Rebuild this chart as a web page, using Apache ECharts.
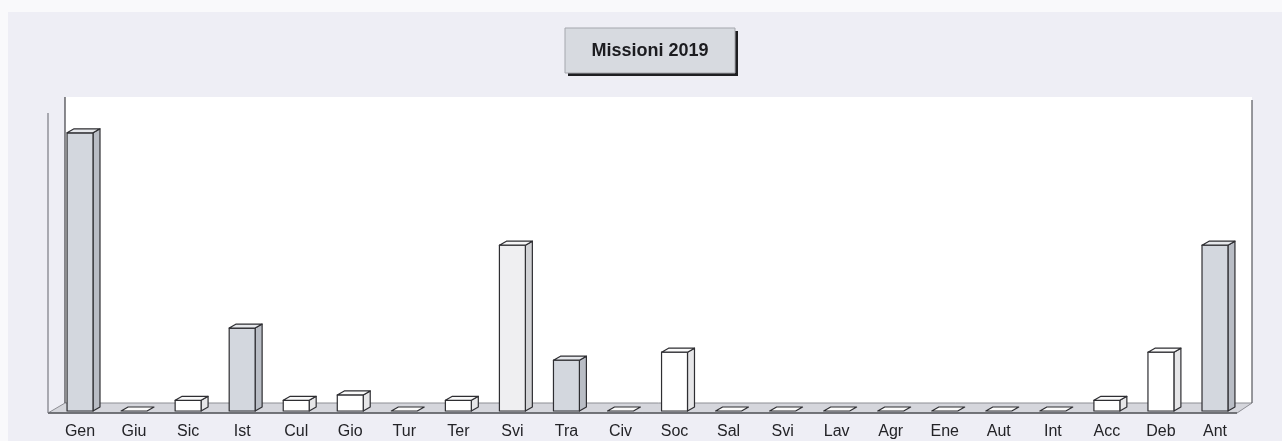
<!DOCTYPE html>
<html>
<head>
<meta charset="utf-8">
<script src="https://cdn.jsdelivr.net/npm/echarts@6/dist/echarts.min.js"></script>
<style>
  html, body { margin: 0; padding: 0; background: #f9f9fb; }
  #chart { width: 1282px; height: 441px; }
</style>
</head>
<body>
<div id="chart"></div>
<script>
// Missions per area, 2019
const categories = ['Gen', 'Giu', 'Sic', 'Ist', 'Cul', 'Gio', 'Tur', 'Ter', 'Svi', 'Tra', 'Civ',
                    'Soc', 'Sal', 'Svi', 'Lav', 'Agr', 'Ene', 'Aut', 'Int', 'Acc', 'Deb', 'Ant'];
const missions = [52, 0, 2, 15.5, 2, 3, 0, 2, 31, 9.5, 0, 11, 0, 0, 0, 0, 0, 0, 0, 2, 11, 31];
const chartTitle = 'Missioni 2019';

// Face colours per bar: grey boxes and white boxes
const tones = {
  grey:  { front: '#d3d7de', top: '#e6e8ec', side: '#b9bdc5' },
  pale:  { front: '#efeff1', top: '#f6f6f7', side: '#d2d3d6' },
  white: { front: '#ffffff', top: '#fafafa', side: '#e6e6e8' }
};
const toneOf = i => ({ 0: 'grey', 3: 'grey', 9: 'grey', 21: 'grey', 8: 'pale' }[i] || 'white');

const GRID = { left: 53, right: 40, top: 90, bottom: 30 };
const DEPTH_X = 7, DEPTH_Y = 4;
const W = 1282, H = 441;

const chart = echarts.init(document.getElementById('chart'), null, { renderer: 'canvas' });

function box(params, api) {
  const idx = api.value(0);
  const top = api.coord([idx, api.value(1)]);
  const bot = api.coord([idx, 0]);
  const band = api.size([1, 0])[0];
  const w = band * 0.48;
  const x0 = top[0] - w / 2, x1 = top[0] + w / 2;
  const yt = top[1], yb = bot[1];
  const t = tones[toneOf(idx)];
  const line = { stroke: '#2e2e32', lineWidth: 1.2, lineJoin: 'round' };
  const children = [];
  if (yb - yt > 0.5) {
    children.push({ type: 'polygon', shape: { points: [[x1, yt], [x1 + DEPTH_X, yt - DEPTH_Y], [x1 + DEPTH_X, yb - DEPTH_Y], [x1, yb]] },
                    style: Object.assign({ fill: t.side }, line) });
    children.push({ type: 'rect', shape: { x: x0, y: yt, width: w, height: yb - yt },
                    style: Object.assign({ fill: t.front }, line) });
  }
  children.push({ type: 'polygon', shape: { points: [[x0, yt], [x0 + DEPTH_X, yt - DEPTH_Y], [x1 + DEPTH_X, yt - DEPTH_Y], [x1, yt]] },
                  style: Object.assign({ fill: t.top }, line) });
  return { type: 'group', children };
}

// Back wall, side wall and floor of the box the bars stand in
const wallL = 65, wallR = 1252, wallTop = 97, floorBack = 403, floorFront = 413, frontL = 48, frontR = 1237;

const option = {
  animation: false,
  backgroundColor: 'transparent',
  graphic: [
    { type: 'rect', z: -10, shape: { x: 8, y: 12, width: W - 8, height: H - 12 }, style: { fill: '#eeeef5' } },
    { type: 'rect', z: -9, shape: { x: wallL, y: wallTop, width: wallR - wallL, height: floorBack - wallTop },
      style: { fill: '#ffffff' } },
    { type: 'polygon', z: -8, shape: { points: [[frontL, floorFront], [frontR, floorFront], [wallR, floorBack], [wallL, floorBack]] },
      style: { fill: '#d5d6dc', stroke: '#8d8e94', lineWidth: 1 } },
    { type: 'line', z: -7, shape: { x1: frontL, y1: floorFront, x2: frontR, y2: floorFront }, style: { stroke: '#5a5b60', lineWidth: 1.5 } },
    { type: 'line', z: -7, shape: { x1: wallL, y1: wallTop, x2: wallL, y2: floorBack }, style: { stroke: '#3e3f44', lineWidth: 1.2 } },
    { type: 'line', z: -7, shape: { x1: frontL, y1: 113, x2: frontL, y2: floorFront }, style: { stroke: '#7a7b82', lineWidth: 1.2 } },
    { type: 'line', z: -7, shape: { x1: wallR, y1: wallTop + 3, x2: wallR, y2: floorBack }, style: { stroke: '#55565c', lineWidth: 1.2 } },
    // Title box with drop shadow
    { type: 'rect', z: 5, shape: { x: 568, y: 31, width: 170, height: 45 }, style: { fill: '#1e1e22' } },
    { type: 'rect', z: 6, shape: { x: 565, y: 28, width: 170, height: 45 },
      style: { fill: '#d7dae0', stroke: '#a5a7ad', lineWidth: 1 } },
    { type: 'text', z: 7, x: 650, y: 51,
      style: { text: chartTitle, fill: '#1c1c20', font: 'bold 18px "Liberation Sans", Arial, sans-serif',
               align: 'center', verticalAlign: 'middle' } }
  ],
  grid: GRID,
  xAxis: {
    type: 'category',
    data: categories,
    axisLine: { show: false },
    axisTick: { show: false },
    splitLine: { show: false },
    axisLabel: { interval: 0, margin: 13, color: '#232327', fontSize: 16,
                 fontFamily: '"Liberation Sans", Arial, sans-serif' }
  },
  yAxis: { type: 'value', min: 0, max: 60, show: false, splitLine: { show: false } },
  series: [{
    type: 'custom',
    renderItem: box,
    encode: { x: 0, y: 1 },
    data: missions.map((v, i) => [i, v]),
    z: 10
  }]
};
chart.setOption(option);
</script>
</body>
</html>
